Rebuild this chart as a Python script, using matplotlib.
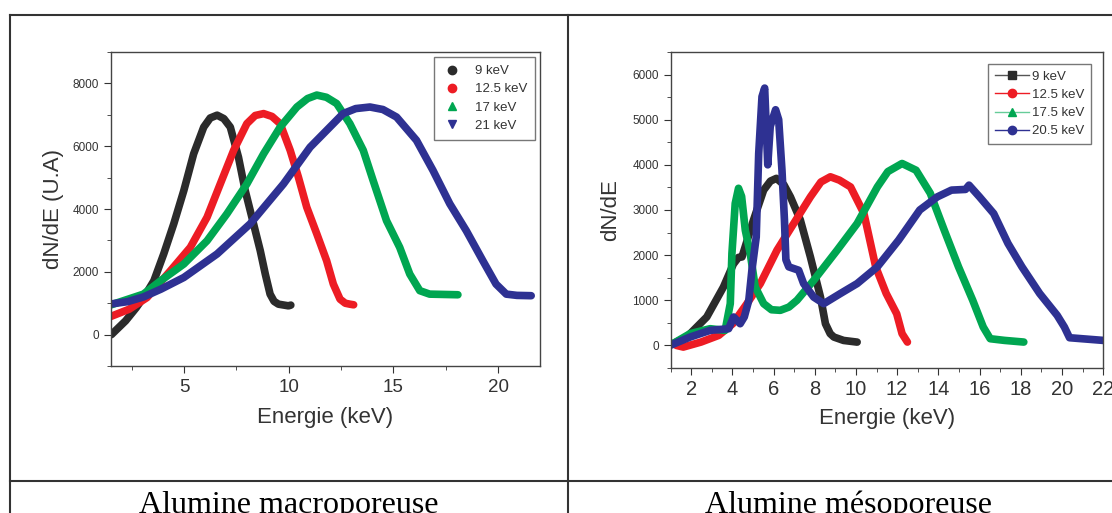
import matplotlib
matplotlib.use("Agg")
import matplotlib.pyplot as plt
from matplotlib.lines import Line2D

plt.rcParams['font.family'] = ['Liberation Sans', 'DejaVu Sans']

# couleurs des series
black = '#2b2b2b'
red = '#ed1c24'
green = '#00a651'
blue = '#2e3192'

# ---- alumine macroporeuse ----
macro_labels = ['9 keV', '12.5 keV', '17 keV', '21 keV']
macro_9_x = [1.53, 2.21, 2.72, 3.23, 3.56, 4.03, 4.51, 4.99, 5.46, 5.94, 6.25, 6.58, 6.9, 7.21, 7.6, 7.92, 8.24, 8.64, 8.88, 9.11,
             9.3, 9.51, 9.99, 10.1]
macro_9_y = [0, 440, 860, 1350, 1715, 2570, 3530, 4590, 5760, 6610, 6900, 6990, 6880, 6610, 5650, 4590, 3740, 2675, 1930, 1290,
             1060, 970, 917, 940]
macro_12_x = [1.45, 2.38, 3.23, 4.35, 5.3, 6.1, 6.73, 7.37, 8.0, 8.4, 8.8, 9.2, 9.59, 10.07, 10.46, 10.86, 11.34, 11.81, 12.13,
              12.45, 12.7, 12.92, 13.1]
macro_12_y = [565, 810, 1180, 2035, 2780, 3740, 4800, 5870, 6720, 6980, 7040, 6950, 6720, 5870, 5020, 4060, 3210, 2355, 1610,
              1130, 1000, 970, 950]
macro_17_x = [1.36, 3.06, 3.88, 4.99, 6.1, 7.05, 8.0, 8.8, 9.59, 10.39, 10.9, 11.34, 11.8, 12.29, 12.92, 13.56, 14.03, 14.67,
              15.3, 15.78, 16.26, 16.73, 17.4, 18.08]
macro_17_y = [915, 1290, 1715, 2250, 2990, 3850, 4800, 5760, 6610, 7250, 7520, 7630, 7560, 7360, 6720, 5870, 4910, 3630,
              2780, 1930, 1400, 1290, 1280, 1270]
macro_21_x = [1.44, 2.3, 3.06, 3.9, 4.99, 6.58, 8.16, 9.75, 11.02, 12.29, 12.6, 13.2, 13.88, 14.5, 15.15, 16.1, 16.89, 17.69,
              18.48, 19.27, 19.9, 20.39, 20.9, 21.58]
macro_21_y = [970, 1050, 1200, 1450, 1820, 2570, 3530, 4800, 5970, 6830, 7040, 7200, 7250, 7170, 6930, 6190, 5230, 4170,
              3310, 2355, 1610, 1290, 1250, 1240]

# ---- alumine mesoporeuse ----
meso_labels = ['9 keV', '12.5 keV', '17.5 keV', '20.5 keV']
meso_9_x = [1.11, 1.79, 2.76, 3.57, 4.05, 4.3, 4.47, 5.03, 5.52, 5.85, 6.14, 6.5, 6.82, 7.3, 7.79, 8.28, 8.52, 8.75, 8.93, 9.4,
            10.06]
meso_9_y = [37, 185, 630, 1295, 1800, 1950, 1960, 2780, 3440, 3640, 3700, 3560, 3290, 2780, 1960, 1070, 480, 260, 185, 110, 73]
meso_12_x = [1.28, 1.62, 2.48, 3.34, 4.02, 4.71, 5.36, 6.17, 6.98, 7.79, 8.3, 8.76, 9.2, 9.74, 10.39, 10.96, 11.47, 11.98,
             12.24, 12.5]
meso_12_y = [0, -37, 74, 222, 480, 925, 1370, 2110, 2700, 3290, 3620, 3735, 3660, 3510, 2920, 1740, 1150, 700, 260, 74]
meso_17_x = [1.11, 1.95, 2.92, 3.65, 3.9, 3.98, 4.14, 4.3, 4.45, 4.63, 4.87, 5.11, 5.52, 5.9, 6.33, 6.75, 7.14, 7.95, 9.09,
             10.06, 11.04, 11.55, 12.24, 12.92, 13.61, 14.29, 14.98, 15.67, 16.18, 16.52, 17.21, 18.15]
meso_17_y = [37, 260, 370, 333, 925, 2035, 3145, 3480, 3300, 2550, 2035, 1295, 925, 790, 777, 850, 1000, 1440, 2110,
             2700, 3510, 3850, 4030, 3880, 3370, 2550, 1740, 1000, 407, 148, 111, 74]
meso_20_x = [0.98, 1.95, 2.92, 3.82, 4.06, 4.38, 4.58, 4.8, 4.95, 5.16, 5.28, 5.44, 5.57, 5.72, 5.84, 6.1, 6.25, 6.41, 6.53,
             6.6, 6.74, 7.22, 7.46, 7.95, 8.44, 9.25, 10.06, 11.04, 12.07, 13.1, 13.95, 14.64, 15.32, 15.49, 16.0, 16.69,
             17.38, 18.06, 18.92, 19.77, 20.12, 20.37, 20.97, 22.0]
meso_20_y = [0, 185, 333, 370, 630, 480, 630, 1000, 1665, 2400, 4250, 5510, 5700, 4000, 4850, 5220, 5000, 3880, 2780,
             1900, 1740, 1665, 1370, 1070, 925, 1150, 1370, 1740, 2330, 3000, 3290, 3440, 3455, 3550, 3290, 2920,
             2260, 1740, 1150, 666, 407, 170, 148, 111]

colors = [black, red, green, blue]

fig = plt.figure(figsize=(11.12, 5.13), dpi=100)
ax1 = fig.add_axes([0.0996, 0.2865, 0.386, 0.612])
ax2 = fig.add_axes([0.603, 0.2827, 0.389, 0.616])

macro = [(macro_9_x, macro_9_y), (macro_12_x, macro_12_y), (macro_17_x, macro_17_y), (macro_21_x, macro_21_y)]
meso = [(meso_9_x, meso_9_y), (meso_12_x, meso_12_y), (meso_17_x, meso_17_y), (meso_20_x, meso_20_y)]

for (x, y), c in zip(macro, colors):
    ax1.plot(x, y, color=c, lw=5.5, solid_capstyle='round', solid_joinstyle='round')
for (x, y), c in zip(meso, colors):
    ax2.plot(x, y, color=c, lw=5.5, solid_capstyle='round', solid_joinstyle='round')

# legends
h1 = [Line2D([], [], ls='none', marker=m, color=c, markersize=6)
      for m, c in zip(['o', 'o', '^', 'v'], colors)]
ax1.legend(h1, macro_labels, loc='upper right', bbox_to_anchor=(0.988, 0.984), fontsize=9.5,
           fancybox=False, edgecolor='#555555', borderpad=0.6, labelspacing=0.45, handletextpad=0.9,
           handlelength=1.6, borderaxespad=0, labelcolor='#333333')
line_cols = ['#555555', red, '#66cc99', blue]
h2 = [Line2D([], [], color=lc, lw=1, marker=m, markerfacecolor=c, markeredgecolor=c, markersize=6)
      for m, c, lc in zip(['s', 'o', '^', 'o'], colors, line_cols)]
ax2.legend(h2, meso_labels, loc='upper right', bbox_to_anchor=(0.971, 0.962), fontsize=9.5,
           fancybox=False, edgecolor='#555555', borderpad=0.5, labelspacing=0.45, handletextpad=0.2,
           handlelength=2.6, borderaxespad=0, labelcolor='#333333')

ax1.set_xlim(1.5, 22)
ax1.set_ylim(-1000, 9000)
ax1.set_xticks([5, 10, 15, 20])
ax1.set_xticks([2.5, 7.5, 12.5, 17.5], minor=True)
ax1.set_yticks([0, 2000, 4000, 6000, 8000])
ax1.set_yticks([-1000, 1000, 3000, 5000, 7000, 9000], minor=True)
ax1.set_xlabel('Energie (keV)', fontsize=16, color='#333333', labelpad=8)
ax1.set_ylabel('dN/dE (U.A)', fontsize=16, color='#333333', labelpad=6)

ax2.set_xlim(1, 22)
ax2.set_ylim(-500, 6500)
ax2.set_xticks(range(2, 23, 2))
ax2.set_xticks(range(1, 23, 2), minor=True)
ax2.set_yticks(range(0, 6001, 1000))
ax2.set_yticks(range(-500, 6501, 1000), minor=True)
ax2.set_xlabel('Energie (keV)', fontsize=16, color='#333333', labelpad=6)
ax2.set_ylabel('dN/dE', fontsize=16, color='#333333', labelpad=8)

for ax, xs in [(ax1, 13.5), (ax2, 14.5)]:
    ax.tick_params(axis='x', which='major', labelsize=xs, length=5, direction='out', colors='#333333', pad=4)
    ax.tick_params(axis='y', which='major', labelsize=8.5, length=5, direction='out', colors='#333333')
    ax.tick_params(which='minor', length=3, direction='out', colors='#333333')
    for s in ax.spines.values():
        s.set_color('#444444')
        s.set_linewidth(1)

# cadre du tableau
lc = '#333333'
fig.add_artist(Line2D([0.009, 1], [0.9708, 0.9708], color=lc, lw=1.5))
fig.add_artist(Line2D([0.009, 0.009], [0, 0.9708], color=lc, lw=1.5))
fig.add_artist(Line2D([0.5108, 0.5108], [0, 0.9708], color=lc, lw=1.5))
fig.add_artist(Line2D([0.009, 1], [0.0624, 0.0624], color=lc, lw=1.5))

fig.text(0.26, -0.014, 'Alumine macroporeuse', family='Liberation Serif', fontsize=23, ha='center', va='bottom')
fig.text(0.763, -0.014, 'Alumine mésoporeuse', family='Liberation Serif', fontsize=23, ha='center', va='bottom')

fig.savefig('out.png', dpi=100)
